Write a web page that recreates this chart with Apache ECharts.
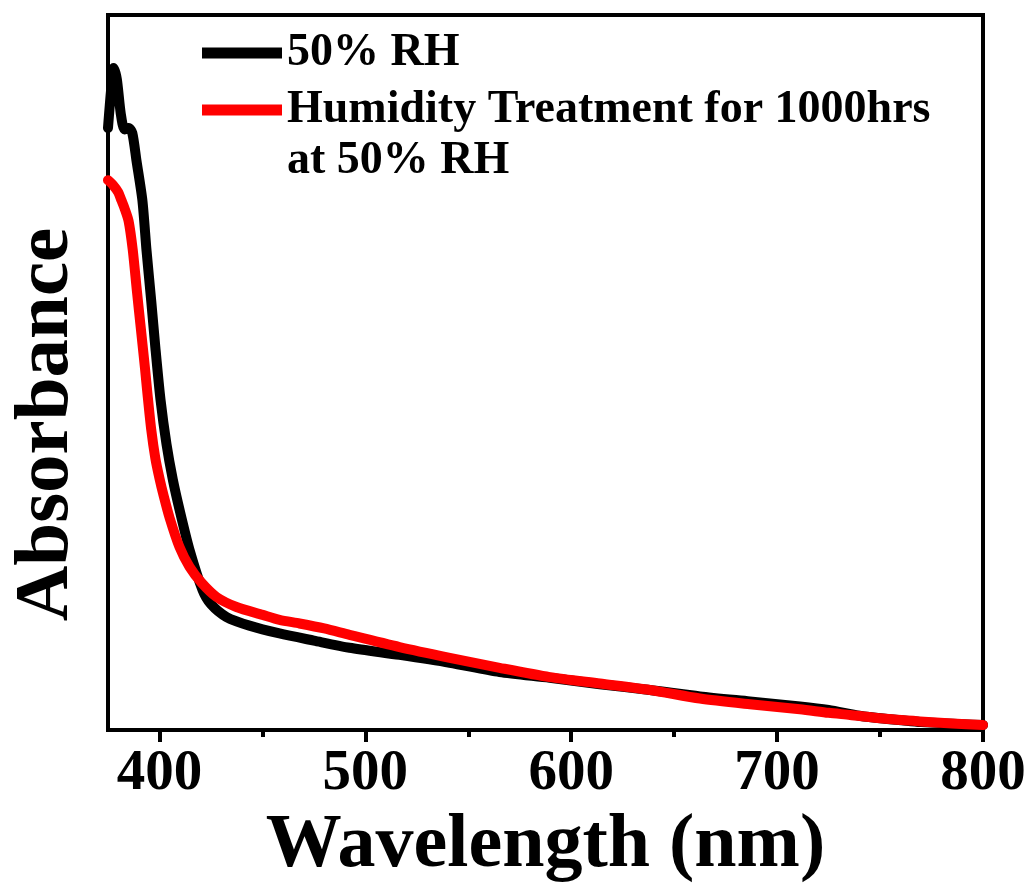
<!DOCTYPE html>
<html>
<head>
<meta charset="utf-8">
<script src="https://cdn.jsdelivr.net/npm/echarts@6/dist/echarts.min.js"></script>
<style>
html,body{margin:0;padding:0;background:#fff;}
#chart{width:1032px;height:883px;}
</style>
</head>
<body>
<div id="chart"></div>
<script>
// Wavelength (nm) and absorbance (arb. units)
var blackX = [375, 376.5, 377.8, 379.3, 381.2, 383, 385, 386.8, 388.8, 391.7, 393.7, 396, 398, 400.5, 403.4, 406.5, 410, 414.6, 420.9, 425, 432.6, 443.7, 458.3, 475, 492.3, 516.6, 541, 565.2, 589.5, 613.9, 638.2, 662.5, 686.8, 711.1, 725, 740, 751.4, 770, 800];
var blackY = [0.842, 0.895, 0.926, 0.910, 0.862, 0.840, 0.842, 0.835, 0.797, 0.741, 0.671, 0.600, 0.535, 0.462, 0.400, 0.350, 0.305, 0.252, 0.196, 0.176, 0.158, 0.146, 0.135, 0.125, 0.115, 0.105, 0.094, 0.081, 0.073, 0.064, 0.056, 0.047, 0.040, 0.033, 0.028, 0.020, 0.016, 0.011, 0.007];

var redX = [375, 377.5, 380, 381.5, 383, 385, 387, 389, 391, 393, 394, 396, 398, 400, 402, 405, 409.7, 414.6, 420.4, 427.7, 437.4, 450.1, 458.3, 468, 480, 492.3, 516.6, 541, 565.2, 589.5, 613.9, 638.2, 662.5, 686.8, 711.1, 725, 735.4, 751.4, 769.4, 785, 800];
var redY = [0.769, 0.762, 0.752, 0.741, 0.730, 0.712, 0.672, 0.615, 0.560, 0.505, 0.475, 0.420, 0.380, 0.352, 0.328, 0.296, 0.256, 0.228, 0.206, 0.186, 0.172, 0.161, 0.154, 0.149, 0.142, 0.133, 0.116, 0.101, 0.087, 0.074, 0.065, 0.056, 0.044, 0.036, 0.029, 0.024, 0.021, 0.016, 0.012, 0.009, 0.007];

var seriesNames = ['50% RH', 'Humidity Treatment for 1000hrs at 50% RH'];
var legendLines = ['50% RH', 'Humidity Treatment for 1000hrs', 'at 50% RH'];
var majorTicks = [400, 500, 600, 700, 800];
var minorTicks = [450, 550, 650, 750];
var xTitle = 'Wavelength (nm)';
var yTitle = 'Absorbance';

function zip(xs, ys) { return xs.map(function (x, i) { return [x, ys[i]]; }); }

var FONT = '"Liberation Serif", "Times New Roman", serif';
var chart = echarts.init(document.getElementById('chart'), null, { renderer: 'canvas' });

chart.setOption({
  animation: false,
  backgroundColor: '#ffffff',
  grid: { left: 108, right: 49, top: 15, bottom: 153, outerBoundsMode: 'none', containLabel: false, show: true, borderColor: '#000', borderWidth: 4, backgroundColor: 'transparent' },
  legend: {
    left: 197, top: 25, orient: 'vertical', icon: 'rect', itemWidth: 80, itemHeight: 11, itemGap: 11,
    textStyle: { fontFamily: FONT, fontWeight: 'bold', fontSize: 46, lineHeight: 46, color: '#000', padding: [0, 0, 0, 0] },
    formatter: function (name) { return name === seriesNames[1] ? legendLines[1] : legendLines[0]; },
    data: seriesNames
  },
  graphic: [{
    type: 'text', left: 287, top: 138,
    style: { text: legendLines[2], font: 'bold 46px ' + FONT, fill: '#000' }
  }],
  xAxis: [{
    type: 'value', min: 375, max: 800,
    name: xTitle, nameLocation: 'middle', nameGap: 66,
    nameTextStyle: { fontFamily: FONT, fontWeight: 'bold', fontSize: 76, color: '#000' },
    axisLine: { show: true, lineStyle: { color: '#000', width: 4 } },
    axisTick: { show: true, customValues: majorTicks, length: 12, lineStyle: { color: '#000', width: 4 } },
    axisLabel: { customValues: majorTicks, margin: 16, fontFamily: FONT, fontWeight: 'bold', fontSize: 57, color: '#000' },
    splitLine: { show: false }
  }, {
    type: 'value', min: 375, max: 800, position: 'bottom',
    axisLine: { show: false },
    axisTick: { show: true, customValues: minorTicks, length: 7, lineStyle: { color: '#000', width: 4 } },
    axisLabel: { show: false },
    splitLine: { show: false }
  }],
  yAxis: {
    type: 'value', min: 0, max: 1,
    name: yTitle, nameLocation: 'middle', nameGap: 22, nameRotate: 90,
    nameTextStyle: { fontFamily: FONT, fontWeight: 'bold', fontSize: 77, color: '#000', padding: [0, 104, 0, 0] },
    axisLine: { show: true, lineStyle: { color: '#000', width: 4 } },
    axisTick: { show: false },
    axisLabel: { show: false },
    splitLine: { show: false }
  },
  series: [{
    name: seriesNames[0], type: 'line', data: zip(blackX, blackY),
    showSymbol: false, smooth: 0.25, color: '#000000',
    lineStyle: { color: '#000000', width: 10, cap: 'round', join: 'round' }
  }, {
    name: seriesNames[1], type: 'line', data: zip(redX, redY),
    showSymbol: false, smooth: 0.25, color: '#ff0000',
    lineStyle: { color: '#ff0000', width: 10, cap: 'round', join: 'round' }
  }]
});
</script>
</body>
</html>
